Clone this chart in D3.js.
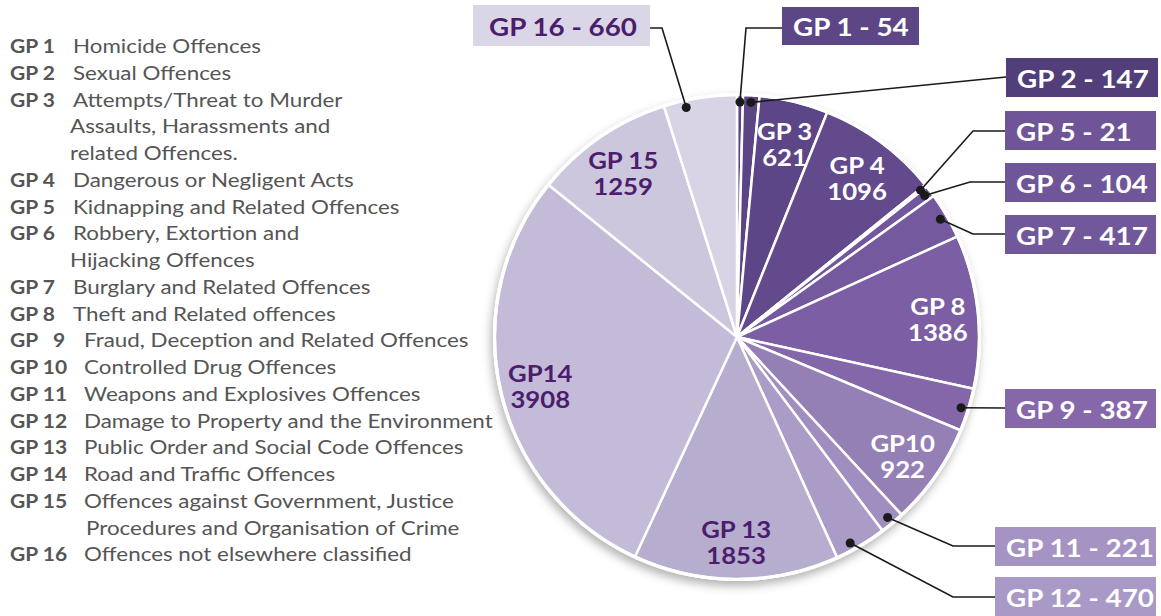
<!DOCTYPE html>
<html>
<head>
<meta charset="utf-8">
<script src="https://cdn.jsdelivr.net/npm/d3@7"></script>
<style>
	body { margin: 0; background: #ffffff; }
	svg { display: block; font-family: Lato, "Open Sans", sans-serif; }
</style>
</head>
<body>
<div id="chart"></div>
<script>
const svg_dimensions = { width: 1161, height: 616 };

// Offence groups, clockwise from 12 o'clock
const groups = ["GP 1", "GP 2", "GP 3", "GP 4", "GP 5", "GP 6", "GP 7", "GP 8",
	"GP 9", "GP 10", "GP 11", "GP 12", "GP 13", "GP 14", "GP 15", "GP 16"];
const counts = [54, 147, 621, 1096, 21, 104, 417, 1386, 387, 922, 221, 470, 1853, 3908, 1259, 660];
const slice_colors = ["#5c4585", "#5c4585", "#5d4687", "#624a8c", "#6d5396", "#71579b", "#75599f", "#7b5ea3",
	"#8467a8", "#9580b6", "#9f8ebf", "#aa9cc6", "#b7aecf", "#c3bbd7", "#cdc7de", "#d8d4e6"];

// Legend (code, description lines)
const legend_codes = ["GP 1", "GP 2", "GP 3", "GP 4", "GP 5", "GP 6", "GP 7", "GP 8",
	"GP   9", "GP 10", "GP 11", "GP 12", "GP 13", "GP 14", "GP 15", "GP 16"];
const legend_texts = [
	["Homicide Offences"],
	["Sexual Offences"],
	["Attempts/Threat to Murder", "Assaults, Harassments and", "related Offences."],
	["Dangerous or Negligent Acts"],
	["Kidnapping and Related Offences"],
	["Robbery, Extortion and", "Hijacking Offences"],
	["Burglary and Related Offences"],
	["Theft and Related offences"],
	["Fraud, Deception and Related Offences"],
	["Controlled Drug Offences"],
	["Weapons and Explosives Offences"],
	["Damage to Property and the Environment"],
	["Public Order and Social Code Offences"],
	["Road and Traffic Offences"],
	["Offences against Government, Justice", "Procedures and Organisation of Crime"],
	["Offences not elsewhere classified"],
];

// Labels drawn inside the pie (index into groups, text lines)
const inner_labels = [
	{ i: 2, lines: ["GP 3", "621"] },
	{ i: 3, lines: ["GP 4", "1096"] },
	{ i: 7, lines: ["GP 8", "1386"] },
	{ i: 9, lines: ["GP10", "922"] },
	{ i: 12, lines: ["GP 13", "1853"] },
	{ i: 13, lines: ["GP14", "3908"] },
	{ i: 14, lines: ["GP 15", "1259"] },
];

// Call-out boxes for the small slices
const callouts = [
	{ i: 15, text: "GP 16 - 660", box: [473, 5, 177, 41], fill: "#dad6e7", color: "#4b1d6c", path: [[650, 28], [662, 28]], frac: 0.29 },
	{ i: 0, text: "GP 1 - 54", box: [782, 7, 137, 38], fill: "#5d4686", color: "#ffffff", path: [[782, 28], [746, 28]] },
	{ i: 1, text: "GP 2 - 147", box: [1006, 58, 152, 39], fill: "#523e79", color: "#ffffff", path: [[1006, 77]] },
	{ i: 4, text: "GP 5 - 21", box: [1005, 111, 151, 39], fill: "#6f5598", color: "#ffffff", path: [[1005, 131], [973, 131]] },
	{ i: 5, text: "GP 6 - 104", box: [1005, 163, 151, 39], fill: "#6f5699", color: "#ffffff", path: [[1005, 182], [970, 182]] },
	{ i: 6, text: "GP 7 - 417", box: [1005, 215, 151, 39], fill: "#71589b", color: "#ffffff", path: [[1005, 234], [973, 234]] },
	{ i: 8, text: "GP 9 - 387", box: [1005, 389, 151, 39], fill: "#8668aa", color: "#ffffff", path: [[1005, 408]] },
	{ i: 10, text: "GP 11 - 221", box: [995, 527, 161, 39], fill: "#a593c4", color: "#ffffff", path: [[995, 546], [953, 546]] },
	{ i: 11, text: "GP 12 - 470", box: [995, 577, 161, 39], fill: "#a899c7", color: "#ffffff", path: [[995, 597], [953, 597]], frac: 0.65 },
];

const center = { x: 737, y: 337 };
const radius = 242;
const legend_gray = "#555555";
const dark_purple = "#4b1d6c";

const svg = d3.select("#chart")
	.append("svg")
		.attr("width", svg_dimensions.width)
		.attr("height", svg_dimensions.height);

// The source uses a narrow font drawn a bit wide, so text gets stretched
// horizontally to match a measured sample width.
function stretch_for(sample, size, weight, target) {
	const t = svg.append("text")
		.attr("font-size", size)
		.attr("font-weight", weight)
		.text(sample);
	const w = t.node().getComputedTextLength();
	t.remove();
	return target / w;
}
function stretched(parent, x, y, str, size, weight, fill, sx, anchor) {
	return parent.append("text")
		.attr("transform", "translate(" + x + "," + y + ") scale(" + sx + ",1)")
		.attr("font-size", size)
		.attr("font-weight", weight)
		.attr("fill", fill)
		.attr("text-anchor", anchor || "start")
		.style("white-space", "pre")
		.text(str);
}

const legend_size = 19;
const legend_sx = stretch_for("Damage to Property and the Environment", legend_size, "normal", 409);
const code_sx = stretch_for("GP 1", legend_size, "bold", 45);
const callout_size = 24.5;
const callout_sx = stretch_for("GP 16 - 660", callout_size, "bold", 148);
const inner_size = 23;
const inner_sx = stretch_for("GP 15", inner_size, "bold", 70);

const defs = svg.append("defs");
const shadow = defs.append("filter")
	.attr("id", "pie_shadow")
	.attr("x", "-20%").attr("y", "-20%")
	.attr("width", "140%").attr("height", "140%");
shadow.append("feDropShadow")
	.attr("dx", -2).attr("dy", 5)
	.attr("stdDeviation", 5)
	.attr("flood-color", "#000000")
	.attr("flood-opacity", 0.3);

// Legend
const legend = svg.append("g");
let row = 0;
const row_height = 26.75;
legend_codes.forEach((code, k) => {
	stretched(legend, 10, 53 + row * row_height, code, legend_size, "bold", legend_gray, code_sx);
	const first_x = k < 8 ? 73 : 84;
	const more_x = k < 8 ? 70 : 86;
	legend_texts[k].forEach((line, j) => {
		stretched(legend, j == 0 ? first_x : more_x, 53 + (row + j) * row_height,
			line, legend_size, "normal", legend_gray, legend_sx);
	});
	row += legend_texts[k].length;
});

// Pie
const pie = d3.pie().sort(null).value(d => d)(counts);
const arc = d3.arc().innerRadius(0).outerRadius(radius);
const pie_g = svg.append("g")
	.attr("transform", "translate(" + center.x + "," + center.y + ")");

pie_g.append("circle")
	.attr("r", radius + 2)
	.attr("fill", "#ffffff")
	.attr("filter", "url(#pie_shadow)");

pie_g.selectAll("path")
	.data(pie)
	.join("path")
		.attr("d", arc)
		.attr("fill", (d, i) => slice_colors[i])
		.attr("stroke", "#ffffff")
		.attr("stroke-width", 2.5)
		.attr("stroke-linejoin", "round");

pie_g.append("circle")
	.attr("r", radius + 0.5)
	.attr("fill", "none")
	.attr("stroke", "#ffffff")
	.attr("stroke-width", 3);

function polar(angle, r) {
	return [center.x + r * Math.sin(angle), center.y - r * Math.cos(angle)];
}
function slice_angle(d, frac) {
	return d.startAngle + (d.endAngle - d.startAngle) * (frac == null ? 0.5 : frac);
}

// Labels inside slices
const inner_g = svg.append("g");
inner_labels.forEach(lab => {
	const d = pie[lab.i];
	const p = polar(slice_angle(d, lab.frac), 202);
	const fill = lab.i >= 12 ? dark_purple : "#ffffff";
	lab.lines.forEach((line, j) => {
		stretched(inner_g, p[0], p[1] - 1 + j * 26, line, inner_size, "bold", fill, inner_sx, "middle");
	});
});

// Call-outs
const call_g = svg.append("g");
callouts.forEach(c => {
	const d = pie[c.i];
	const dot = polar(slice_angle(d, c.frac), radius - 7);
	const pts = c.path.concat([dot]);
	call_g.append("path")
		.attr("d", d3.line()(pts))
		.attr("fill", "none")
		.attr("stroke", "#1a1a1a")
		.attr("stroke-width", 1.6);
	call_g.append("circle")
		.attr("cx", dot[0])
		.attr("cy", dot[1])
		.attr("r", 4.5)
		.attr("fill", "#1a1a1a");
	call_g.append("rect")
		.attr("x", c.box[0])
		.attr("y", c.box[1])
		.attr("width", c.box[2])
		.attr("height", c.box[3])
		.attr("fill", c.fill);
	stretched(call_g, c.box[0] + (c.i == 15 ? 16 : 11), c.box[1] + c.box[3] / 2 + 10,
		c.text, callout_size, "bold", c.color, callout_sx);
});
</script>
</body>
</html>
